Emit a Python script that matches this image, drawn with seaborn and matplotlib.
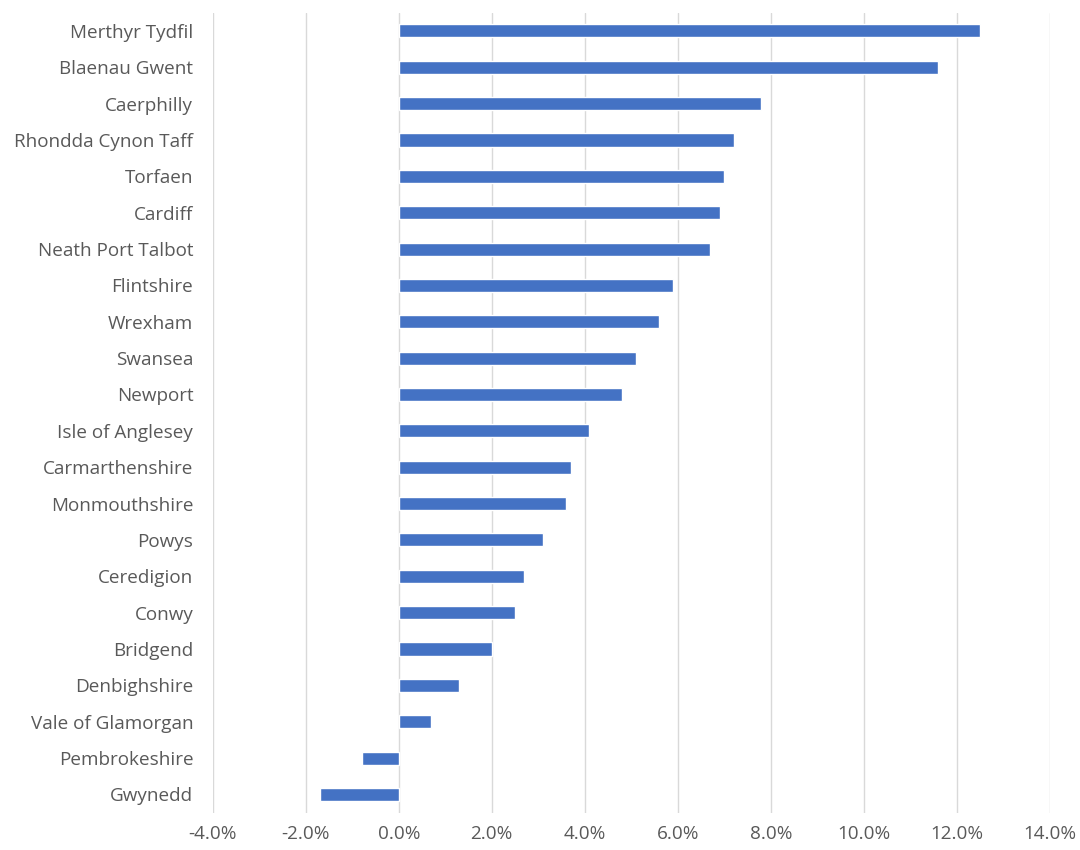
import matplotlib
matplotlib.use("Agg")
import matplotlib.pyplot as plt
import seaborn as sns
import pandas as pd
from matplotlib.ticker import FuncFormatter, MultipleLocator

areas = [
    "Merthyr Tydfil", "Blaenau Gwent", "Caerphilly", "Rhondda Cynon Taff",
    "Torfaen", "Cardiff", "Neath Port Talbot", "Flintshire", "Wrexham",
    "Swansea", "Newport", "Isle of Anglesey", "Carmarthenshire",
    "Monmouthshire", "Powys", "Ceredigion", "Conwy", "Bridgend",
    "Denbighshire", "Vale of Glamorgan", "Pembrokeshire", "Gwynedd",
]
change_pct = [
    12.5, 11.6, 7.8, 7.2, 7.0, 6.9, 6.7, 5.9, 5.6, 5.1, 4.8, 4.1, 3.7,
    3.6, 3.1, 2.7, 2.5, 2.0, 1.3, 0.7, -0.8, -1.7,
]

df = pd.DataFrame({"area": areas, "change": change_pct})

sns.set_style("white")
plt.rcParams["font.family"] = ["Open Sans", "DejaVu Sans"]

fig = plt.figure(figsize=(10.8, 8.5), dpi=100)
ax = fig.add_axes([0.197, 0.044, 0.775, 0.941])

sns.barplot(data=df, y="area", x="change", orient="h", color="#4472C4",
            saturation=1, width=0.36, ax=ax)

ax.set_xlim(-4, 14)
ax.xaxis.set_major_locator(MultipleLocator(2))
ax.xaxis.set_major_formatter(FuncFormatter(lambda v, p: f"{v:.1f}%"))
ax.grid(axis="x", color="#d9d9d9", linewidth=1)
ax.set_axisbelow(True)
for s in ax.spines.values():
    s.set_visible(False)
ax.set_xlabel("")
ax.set_ylabel("")
ax.tick_params(axis="both", length=0, labelcolor="#595959", labelsize=13.6)
ax.tick_params(axis="x", pad=9)
ax.tick_params(axis="y", pad=14)

fig.savefig("out.png", dpi=100, facecolor="white")
